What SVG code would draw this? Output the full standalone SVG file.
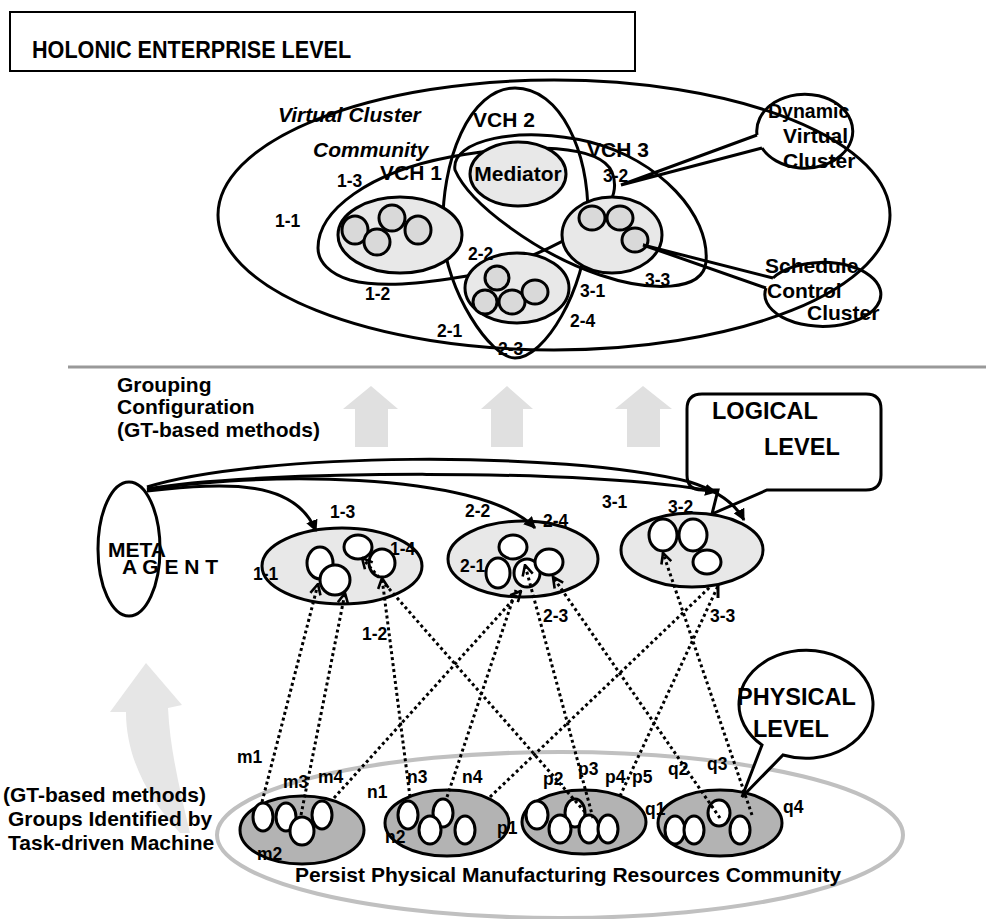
<svg xmlns="http://www.w3.org/2000/svg" width="986" height="919" viewBox="0 0 986 919">
<defs>
<style>
text{font-family:"Liberation Sans",Arial,sans-serif;font-weight:bold;fill:#000}
.f20{font-size:21px}
.f22{font-size:23.5px}
.lb{font-size:17.5px}
.it{font-style:italic}
.ln{fill:none;stroke:#000;stroke-width:3}
.cb{fill:#fff;stroke:#000;stroke-width:3}
.grp{fill:#e8e8e8;stroke:#000;stroke-width:3}
.gc{fill:#d9d9d9;stroke:#000;stroke-width:3}
.wc{fill:#fff;stroke:#000;stroke-width:3}
.dg{fill:#b3b3b3;stroke:#000;stroke-width:3}
.dot{fill:none;stroke:#000;stroke-width:3;stroke-dasharray:3 3}
.big{fill:#e0e0e0}
</style>
<marker id="ah" viewBox="0 0 10 10" refX="9" refY="5" markerWidth="13" markerHeight="13" markerUnits="userSpaceOnUse" orient="auto"><path d="M1,1 L9,5 L1,9" fill="none" stroke="#000" stroke-width="2"/></marker>
<marker id="tri" viewBox="0 0 10 10" refX="9" refY="5" markerWidth="12" markerHeight="12" markerUnits="userSpaceOnUse" orient="auto"><path d="M0,0 L10,5 L0,10 Z" fill="#000"/></marker>
</defs>
<rect width="986" height="919" fill="#fff"/>

<g id="title">
<rect x="10" y="12" width="625" height="59" fill="#fff" stroke="#000" stroke-width="2"/>
<text transform="translate(32,58) scale(0.9,1)" style="font-size:24px">HOLONIC ENTERPRISE LEVEL</text>
</g>

<g id="virtual-cluster-community">
<ellipse cx="554" cy="215" rx="336" ry="135" class="ln"/>
<text x="278" y="122" class="f20 it">Virtual Cluster</text>
<text x="313" y="157" class="f20 it">Community</text>
</g>

<g id="vch2">
<path d="M515,88 C470,88 440,160 443,235 C446,290 490,358 515,358 C545,358 585,290 588,225 C590,150 560,88 515,88 Z" class="ln"/>
<text x="473" y="127" class="f20">VCH 2</text>
</g>
<g id="vch1">
<path d="M318,248 C318,210 370,172 450,157 C530,142 600,145 612,172 C620,192 608,212 590,225 C560,245 510,268 467,276 C420,284 380,288 350,280 C330,274 318,262 318,248 Z" class="ln"/>
<text x="380" y="180" class="f20">VCH 1</text>
</g>
<g id="vch3">
<path d="M455,170 C450,140 520,125 590,142 C660,160 710,215 706,262 C703,292 650,292 600,275 C540,255 470,205 455,170 Z" class="ln"/>
<text x="587" y="157" class="f20">VCH 3</text>
</g>

<g id="mediator">
<ellipse cx="518" cy="174" rx="48" ry="32" class="grp"/>
<text x="518" y="181" class="f20" text-anchor="middle">Mediator</text>
</g>

<g id="cluster1">
<ellipse cx="400" cy="235" rx="62" ry="38" class="grp"/>
<ellipse cx="355" cy="230" rx="13" ry="14" class="gc"/>
<ellipse cx="392" cy="218" rx="13" ry="13" class="gc"/>
<ellipse cx="377" cy="242" rx="13" ry="13" class="gc"/>
<ellipse cx="418" cy="230" rx="13" ry="14" class="gc"/>
</g>
<g id="cluster2">
<ellipse cx="517" cy="288" rx="52" ry="35" class="grp"/>
<ellipse cx="497" cy="278" rx="12" ry="12" class="gc"/>
<ellipse cx="485" cy="302" rx="12" ry="12" class="gc"/>
<ellipse cx="512" cy="302" rx="13" ry="12" class="gc"/>
<ellipse cx="535" cy="292" rx="13" ry="12" class="gc"/>
</g>
<g id="cluster3">
<ellipse cx="612" cy="235" rx="50" ry="38" class="grp"/>
<ellipse cx="592" cy="218" rx="13" ry="12" class="gc"/>
<ellipse cx="620" cy="218" rx="13" ry="12" class="gc"/>
<ellipse cx="635" cy="240" rx="13" ry="12" class="gc"/>
</g>

<g id="top-labels">
<text x="337" y="187" class="lb">1-3</text>
<text x="275" y="227" class="lb">1-1</text>
<text x="468" y="260" class="lb">2-2</text>
<text x="603" y="182" class="lb">3-2</text>
<text x="645" y="286" class="lb">3-3</text>
<text x="365" y="300" class="lb">1-2</text>
<text x="580" y="297" class="lb">3-1</text>
<text x="570" y="327" class="lb">2-4</text>
<text x="437" y="337" class="lb">2-1</text>
<text x="498" y="355" class="lb">2-3</text>
</g>

<g id="dynamic-callout">
<path d="M757,135 L621,185 L762,148" class="ln"/>
<path d="M757,135 A48,37 0 1 1 762,148" class="ln"/>
<text x="768" y="118" style="font-size:19.5px">Dynamic</text>
<text x="783" y="143" class="f20">Virtual</text>
<text x="783" y="168" class="f20">Cluster</text>
</g>

<g id="schedule-callout">
<path d="M773,278 L643,245 L766,288" class="ln"/>
<path d="M773,278 A58,32 0 1 1 766,288" class="ln"/>
<text x="765" y="273" class="f20">Schedule</text>
<text x="767" y="298" class="f20">Control</text>
<text x="807" y="320" class="f20">Cluster</text>
</g>

<line x1="68" y1="367" x2="986" y2="367" stroke="#999" stroke-width="3"/>

<g id="up-arrows">
<path d="M371,386 L398,409 L388,409 L388,447 L355,447 L355,409 L343,409 Z" class="big"/>
<path d="M507,386 L533,409 L523,409 L523,447 L491,447 L491,409 L481,409 Z" class="big"/>
<path d="M643,386 L672,409 L660,409 L660,447 L627,447 L627,409 L615,409 Z" class="big"/>
</g>

<g id="grouping-text">
<text x="117" y="392" class="f20">Grouping</text>
<text x="117" y="414" class="f20">Configuration</text>
<text x="117" y="437" class="f20">(GT-based methods)</text>
</g>

<g id="logical-level">
<path d="M702,394 H866 Q881,394 881,409 V475 Q881,490 866,490 H767 L712,514 L718,490 H702 Q687,490 687,475 V409 Q687,394 702,394 Z" class="cb"/>
<text x="712" y="419" class="f22">LOGICAL</text>
<text x="764" y="455" class="f22">LEVEL</text>
</g>

<g id="meta-agent">
<ellipse cx="129" cy="549" rx="31" ry="67" class="ln"/>
<text x="108" y="557" class="f20">META</text>
<text x="122" y="574" class="f20">A G E N T</text>
</g>

<g id="logical1">
<ellipse cx="342" cy="566" rx="80" ry="38" class="grp"/>
<ellipse cx="320" cy="563" rx="13" ry="16" class="wc"/>
<ellipse cx="358" cy="547" rx="14" ry="12" class="wc"/>
<ellipse cx="382" cy="563" rx="13" ry="14" class="wc"/>
<ellipse cx="335" cy="580" rx="15" ry="15" class="wc"/>
<text x="330" y="518" class="lb">1-3</text>
<text x="390" y="555" class="lb">1-4</text>
<text x="253" y="580" class="lb">1-1</text>
<text x="362" y="640" class="lb">1-2</text>
</g>
<g id="logical2">
<ellipse cx="523" cy="559" rx="75" ry="38" class="grp"/>
<ellipse cx="513" cy="547" rx="14" ry="12" class="wc"/>
<ellipse cx="498" cy="573" rx="12" ry="15" class="wc"/>
<ellipse cx="527" cy="573" rx="13" ry="14" class="wc"/>
<ellipse cx="549" cy="562" rx="14" ry="13" class="wc"/>
<text x="465" y="517" class="lb">2-2</text>
<text x="543" y="527" class="lb">2-4</text>
<text x="460" y="572" class="lb">2-1</text>
<text x="543" y="622" class="lb">2-3</text>
</g>
<g id="logical3">
<ellipse cx="692" cy="550" rx="71" ry="37" class="grp"/>
<ellipse cx="663" cy="535" rx="14" ry="16" class="wc"/>
<ellipse cx="693" cy="535" rx="14" ry="16" class="wc"/>
<ellipse cx="707" cy="562" rx="14" ry="12" class="wc"/>
<line x1="718" y1="585" x2="718" y2="598" stroke="#000" stroke-width="3"/>
<text x="602" y="508" class="lb">3-1</text>
<text x="668" y="513" class="lb">3-2</text>
<text x="710" y="622" class="lb">3-3</text>
</g>

<g id="curved-arrow">
<path d="M180,833 C150,800 126,760 126,712 L110,712 L146,663 L182,705 L168,708 C170,750 180,790 190,833 Z" fill="#e6e6e6"/>
</g>

<g id="bottom-left-text">
<text x="3" y="802" class="f20">(GT-based methods)</text>
<text x="8" y="826" class="f20">Groups Identified by</text>
<text x="8" y="850" class="f20">Task-driven Machine</text>
</g>

<g id="resource-community">
<ellipse cx="560" cy="835" rx="343" ry="83" fill="none" stroke="#c0c0c0" stroke-width="4"/>
<text x="295" y="882" class="f20">Persist Physical Manufacturing Resources Community</text>
</g>

<g id="group-m">
<ellipse cx="302" cy="830" rx="62" ry="34" class="dg"/>
<ellipse cx="263" cy="817" rx="10" ry="14" class="wc"/>
<ellipse cx="286" cy="817" rx="10" ry="14" class="wc"/>
<ellipse cx="302" cy="831" rx="12" ry="14" class="wc"/>
<ellipse cx="322" cy="815" rx="10" ry="14" class="wc"/>
<text x="257" y="860" class="lb">m2</text>
</g>
<g id="group-n">
<ellipse cx="447" cy="823" rx="62" ry="33" class="dg"/>
<ellipse cx="408" cy="815" rx="10" ry="14" class="wc"/>
<ellipse cx="443" cy="813" rx="10" ry="14" class="wc"/>
<ellipse cx="430" cy="830" rx="11" ry="14" class="wc"/>
<ellipse cx="465" cy="830" rx="10" ry="14" class="wc"/>
<text x="385" y="843" class="lb">n2</text>
<text x="497" y="834" class="lb">p1</text>
</g>
<g id="group-p">
<ellipse cx="584" cy="822" rx="62" ry="32" class="dg"/>
<ellipse cx="537" cy="815" rx="11" ry="14" class="wc"/>
<ellipse cx="575" cy="813" rx="10" ry="14" class="wc"/>
<ellipse cx="560" cy="829" rx="11" ry="14" class="wc"/>
<ellipse cx="589" cy="829" rx="10" ry="14" class="wc"/>
<ellipse cx="608" cy="829" rx="10" ry="14" class="wc"/>
</g>
<g id="group-q">
<ellipse cx="720" cy="823" rx="62" ry="33" class="dg"/>
<ellipse cx="675" cy="830" rx="10" ry="14" class="wc"/>
<ellipse cx="694" cy="830" rx="10" ry="14" class="wc"/>
<ellipse cx="719" cy="813" rx="11" ry="13" class="wc"/>
<ellipse cx="740" cy="830" rx="10" ry="14" class="wc"/>
</g>

<g id="resource-labels">
<text x="237" y="763" class="lb">m1</text>
<text x="283" y="788" class="lb">m3</text>
<text x="318" y="783" class="lb">m4</text>
<text x="367" y="798" class="lb">n1</text>
<text x="407" y="783" class="lb">n3</text>
<text x="462" y="783" class="lb">n4</text>
<text x="543" y="785" class="lb">p2</text>
<text x="578" y="775" class="lb">p3</text>
<text x="605" y="783" class="lb">p4</text>
<text x="632" y="783" class="lb">p5</text>
<text x="645" y="815" class="lb">q1</text>
<text x="668" y="775" class="lb">q2</text>
<text x="707" y="770" class="lb">q3</text>
<text x="783" y="813" class="lb">q4</text>
</g>

<g id="physical-level">
<path d="M762,745 L742,797 L783,755 A67,54 0 1 0 762,745 Z" class="cb"/>
<text x="737" y="705" class="f22">PHYSICAL</text>
<text x="753" y="737" class="f22">LEVEL</text>
</g>

<g id="connectors">
<path d="M147,487 C260,452 560,450 690,482 C715,490 735,503 744,520" class="ln" marker-end="url(#tri)"/>
<path d="M147,489 C250,470 600,468 716,492" class="ln" marker-end="url(#tri)"/>
<path d="M147,490 C250,472 480,470 535,528" class="ln" marker-end="url(#tri)"/>
<path d="M147,491 C230,482 295,480 316,531" class="ln" marker-end="url(#tri)"/>
<line x1="262" y1="802" x2="318" y2="584" class="dot" marker-end="url(#ah)"/>
<line x1="301" y1="815" x2="345" y2="593" class="dot" marker-end="url(#ah)"/>
<line x1="334" y1="798" x2="521" y2="591" class="dot" marker-end="url(#ah)"/>
<line x1="410" y1="797" x2="382" y2="578" class="dot" marker-end="url(#ah)"/>
<line x1="447" y1="797" x2="516" y2="590" class="dot"/>
<line x1="490" y1="797" x2="710" y2="587" class="dot"/>
<line x1="585" y1="812" x2="362" y2="558" class="dot" marker-end="url(#ah)"/>
<line x1="593" y1="818" x2="525" y2="565" class="dot" marker-end="url(#ah)"/>
<line x1="720" y1="818" x2="553" y2="577" class="dot" marker-end="url(#ah)"/>
<line x1="620" y1="796" x2="718" y2="586" class="dot"/>
<line x1="752" y1="815" x2="663" y2="553" class="dot" marker-end="url(#ah)"/>
</g>
</svg>
